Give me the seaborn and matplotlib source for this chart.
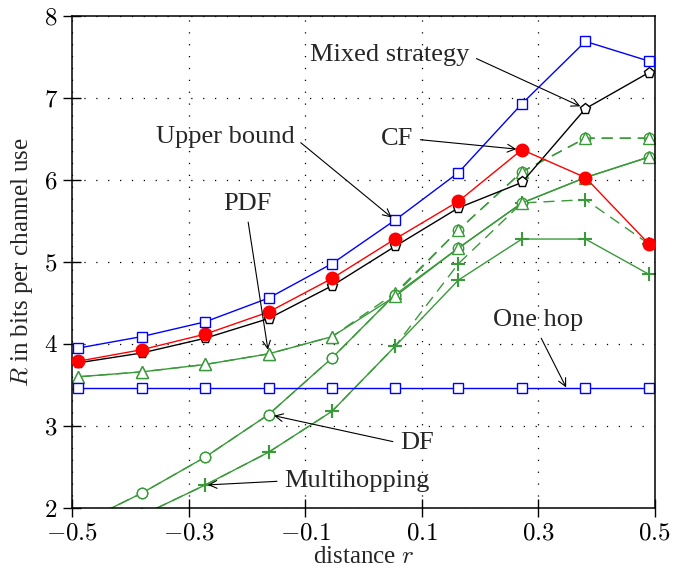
import matplotlib
matplotlib.use("Agg")
import matplotlib.pyplot as plt
import seaborn as sns

# distance r of the relay (x values)
distance = [-0.49, -0.381, -0.272, -0.163, -0.054, 0.054, 0.163, 0.272, 0.381, 0.49]

# rates in bits per channel use
upper_bound = [3.95, 4.09, 4.27, 4.56, 4.98, 5.51, 6.09, 6.93, 7.69, 7.45]
mixed_strategy = [3.77, 3.89, 4.07, 4.31, 4.71, 5.19, 5.66, 5.97, 6.87, 7.31]
cf = [3.79, 3.93, 4.12, 4.39, 4.80, 5.28, 5.74, 6.37, 6.03, 5.22]
pdf = [3.60, 3.66, 3.75, 3.88, 4.09, 4.58, 5.17, 5.72, 6.03, 6.28]
df = [1.80, 2.18, 2.62, 3.14, 3.83, 4.60, 5.17, 5.72, 6.03, 6.28]
multihop = [1.50, 1.91, 2.28, 2.68, 3.18, 3.97, 4.78, 5.28, 5.28, 4.85]
pdf_dashed = [3.60, 3.66, 3.75, 3.88, 4.09, 4.62, 5.39, 6.10, 6.51, 6.51]
df_dashed = [1.80, 2.18, 2.62, 3.14, 3.83, 4.60, 5.39, 6.10, 6.51, 6.51]
multihop_dashed = [1.50, 1.91, 2.28, 2.68, 3.18, 3.97, 4.98, 5.72, 5.76, 5.22]
one_hop = [3.46, 3.46, 3.46, 3.46, 3.46, 3.46, 3.46, 3.46, 3.46, 3.46]

x_ticks = [-0.5, -0.3, -0.1, 0.1, 0.3, 0.5]
x_tick_labels = [r"$-0.5$", r"$-0.3$", r"$-0.1$", r"$0.1$", r"$0.3$", r"$0.5$"]
y_ticks = [2, 3, 4, 5, 6, 7, 8]
y_tick_labels = [r"$2$", r"$3$", r"$4$", r"$5$", r"$6$", r"$7$", r"$8$"]

sns.set_theme(style="white")
plt.rcParams["font.family"] = ["Liberation Serif", "DejaVu Serif"]
plt.rcParams["mathtext.fontset"] = "cm"

GREEN = "#3a9a3a"
BLUE = "#0000ff"
RED = "#ff0000"

fig = plt.figure(figsize=(6.86, 5.69), dpi=100)
ax = fig.add_axes([0.1054, 0.1072, 0.849, 0.8647])


def draw(values, color, marker, dashed=False, ms=7, mfc="white", mew=1.0, z=2):
    xs, ys = distance, values
    if dashed:
        # drawn right to left so that overlapping dashed curves keep the same dash phase
        xs, ys = distance[::-1], values[::-1]
    sns.lineplot(x=xs, y=ys, sort=False, color=color, marker=marker,
                 markersize=ms, markerfacecolor=mfc, markeredgecolor=color,
                 markeredgewidth=mew, linewidth=1.0, ax=ax, zorder=z)
    line = ax.lines[-1]
    line.set_linestyle((0, (8, 5)) if dashed else "-")


# dashed green curves first, solid ones on top
draw(multihop_dashed, GREEN, "+", dashed=True, ms=10, mew=1.5)
draw(df_dashed, GREEN, "o", dashed=True, ms=7.5)
draw(pdf_dashed, GREEN, "^", dashed=True, ms=8)
draw(multihop, GREEN, "+", ms=10, mew=1.5)
draw(df, GREEN, "o", ms=7.5)
draw(pdf, GREEN, "^", ms=8)
draw(one_hop, BLUE, "s", ms=7)
draw(mixed_strategy, "black", "p", ms=8)
draw(cf, RED, "o", ms=9, mfc=RED, z=3)
draw(upper_bound, BLUE, "s", ms=7, z=3)

ax.set_xlim(-0.5, 0.5)
ax.set_ylim(2, 8)
ax.set_xticks(x_ticks)
ax.set_xticklabels(x_tick_labels)
ax.set_yticks(y_ticks)
ax.set_yticklabels(y_tick_labels)
ax.tick_params(direction="inout", length=13, width=1.0, colors="black",
               labelsize=18, pad=4, left=True, bottom=True, top=False, right=False)
ax.grid(True, color="black", linestyle=(0, (1, 8.5)), linewidth=0.9)
for sp in ax.spines.values():
    sp.set_color("black")
    sp.set_linewidth(1.1)

ax.set_xlabel("distance $r$", fontsize=18, labelpad=1)
ax.set_ylabel("$R$ in bits per channel use", fontsize=18, labelpad=6)

# annotations: (text, target, text position, start point on text box, gap at target)
notes = [
    ("Mixed strategy", (0.381, 6.87), (0.045, 7.52), (1, 0.5), 4),
    ("Upper bound", (0.054, 5.51), (-0.238, 6.52), (1, 0.5), 3),
    ("CF", (0.272, 6.37), (0.057, 6.50), (1, 0.5), 4),
    ("PDF", (-0.163, 3.88), (-0.2, 5.71), (0.5, 0), 3),
    ("One hop", (0.348, 3.47), (0.299, 4.29), (0.5, 0), 0),
    ("DF", (-0.163, 3.14), (0.092, 2.79), (0, 0.5), 4),
    ("Multihopping", (-0.272, 2.28), (-0.011, 2.33), (0, 0.5), 2),
]
for txt, xy, xytext, rel, shr in notes:
    ax.annotate(txt, xy=xy, xytext=xytext, textcoords="data", ha="center",
                va="center", fontsize=19, zorder=5,
                arrowprops=dict(arrowstyle="->", color="black", lw=0.8,
                                relpos=rel, shrinkA=3, shrinkB=shr,
                                mutation_scale=14))

plt.savefig("out.png", dpi=100)
plt.close()
